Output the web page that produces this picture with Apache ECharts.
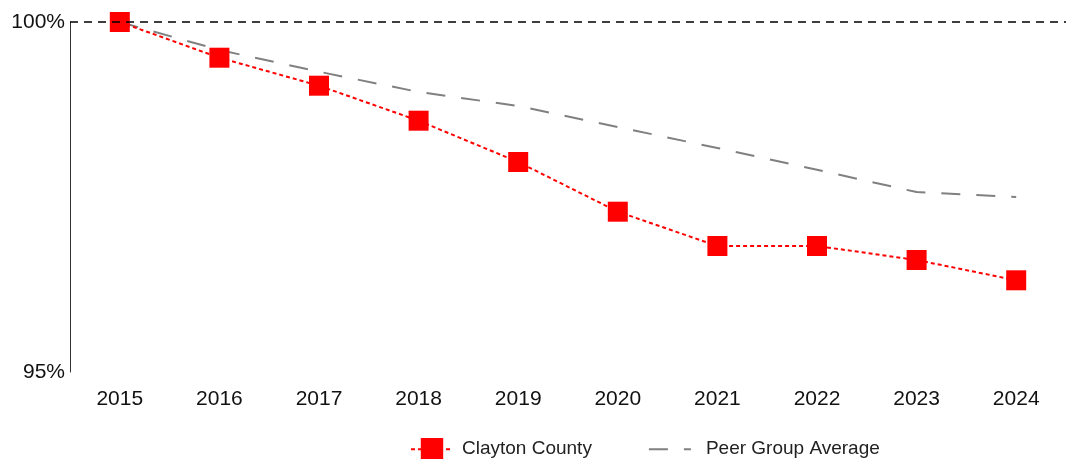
<!DOCTYPE html>
<html>
<head>
<meta charset="utf-8">
<script src="https://cdn.jsdelivr.net/npm/echarts@6/dist/echarts.min.js"></script>
<style>
  html, body { margin: 0; padding: 0; background: #fff; }
  #chart { width: 1079px; height: 459px; }
</style>
</head>
<body>
<div id="chart"></div>
<script>
// data
const years = ['2015', '2016', '2017', '2018', '2019', '2020', '2021', '2022', '2023', '2024'];
const clayton = [100, 99.49, 99.09, 98.59, 98.0, 97.29, 96.8, 96.8, 96.6, 96.31];
const peerAvg = [100, 99.6, 99.29, 99.0, 98.8, 98.5, 98.2, 97.89, 97.57, 97.5];
const yTicks = [95, 100];

const chart = echarts.init(document.getElementById('chart'));

chart.setOption({
    animation: false,
    textStyle: { fontFamily: 'Liberation Sans, Arial, sans-serif' },
    grid: {
        left: 70,
        right: 13,
        top: 22,
        bottom: 87
    },
    legend: {
        left: 405,
        top: 433,
        itemWidth: 42,
        itemHeight: 28,
        itemGap: 56,
        textStyle: { fontSize: 19, color: '#222', padding: [0, 0, 0, 4] },
        data: [
            { name: 'Clayton County' },
            {
                name: 'Peer Group Average',
                itemStyle: { opacity: 0 },
                textStyle: { padding: [0, 0, 0, 10] }
            }
        ]
    },
    xAxis: {
        type: 'category',
        data: years,
        boundaryGap: true,
        axisLine: { show: false },
        axisTick: { show: false },
        axisLabel: { fontSize: 21, color: '#111', margin: 17 }
    },
    yAxis: {
        type: 'value',
        min: yTicks[0],
        max: yTicks[1],
        interval: 5,
        axisLine: { show: true, lineStyle: { color: '#333', width: 1 } },
        axisTick: { show: false },
        splitLine: { show: false },
        axisLabel: {
            fontSize: 21,
            color: '#111',
            margin: 5,
            formatter: v => v + '%'
        }
    },
    series: [
        {
            name: 'Peer Group Average',
            type: 'line',
            data: peerAvg,
            symbol: 'none',
            lineStyle: { color: '#808080', width: 2, type: [19, 16] },
            itemStyle: { color: '#808080' },
            z: 2,
            markLine: {
                silent: true,
                symbol: 'none',
                label: { show: false },
                lineStyle: { color: '#000', width: 1.5, type: [8, 6] },
                data: [{ yAxis: 100 }]
            }
        },
        {
            name: 'Clayton County',
            type: 'line',
            data: clayton,
            symbol: 'rect',
            symbolSize: 20,
            lineStyle: { color: '#ff0000', width: 2, type: [4, 3] },
            itemStyle: { color: '#ff0000' },
            z: 3
        }
    ]
});
</script>
</body>
</html>
